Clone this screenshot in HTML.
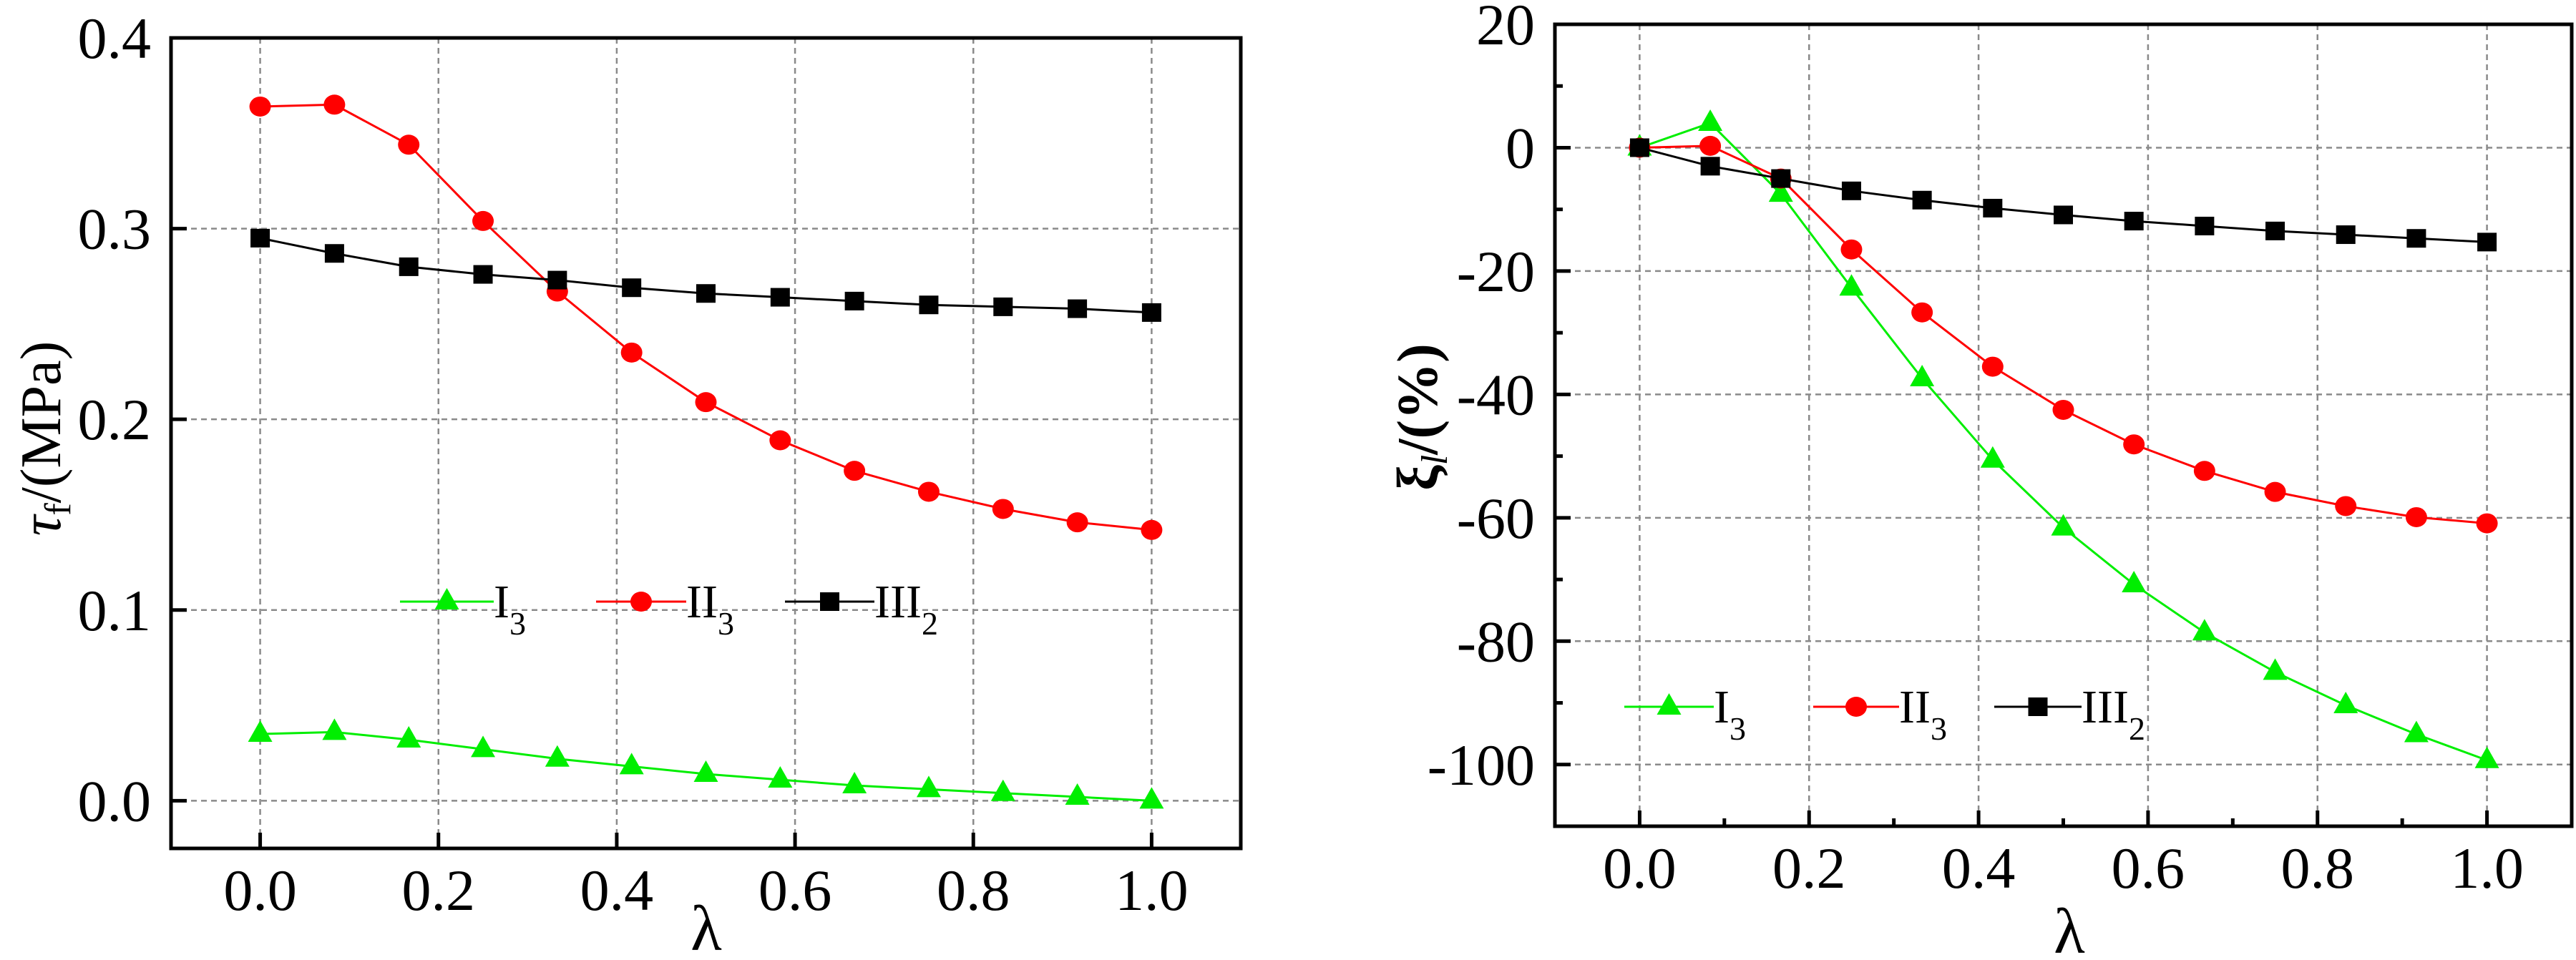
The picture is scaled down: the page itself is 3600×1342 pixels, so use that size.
<!DOCTYPE html>
<html><head><meta charset="utf-8"><style>
html,body{margin:0;padding:0;background:#fff;}
svg{display:block;font-family:"Liberation Serif",serif;}
</style></head><body>
<svg id="c" width="3600" height="1342" viewBox="0 0 3600 1342" xmlns="http://www.w3.org/2000/svg"></svg>
<script>
const lambdas=[0,1/12,2/12,3/12,4/12,5/12,6/12,7/12,8/12,9/12,10/12,11/12,1];
const xTicks=[0,0.2,0.4,0.6,0.8,1.0];
const xTickLabels=["0.0","0.2","0.4","0.6","0.8","1.0"];
const leftYTicks=[0,0.1,0.2,0.3,0.4];
const leftYTickLabels=["0.0","0.1","0.2","0.3","0.4"];
const rightYTicks=[20,0,-20,-40,-60,-80,-100];
const rightYTickLabels=["20","0","-20","-40","-60","-80","-100"];
const rightYMinor=[10,-10,-30,-50,-70,-90];
const rightXMinor=[0.1,0.3,0.5,0.7,0.9];
const tauI3=[0.035,0.036,0.032,0.027,0.022,0.018,0.014,0.011,0.008,0.006,0.004,0.002,0.000];
const tauII3=[0.364,0.365,0.344,0.304,0.267,0.235,0.209,0.189,0.173,0.162,0.153,0.146,0.142];
const tauIII2=[0.295,0.287,0.280,0.276,0.273,0.269,0.266,0.264,0.262,0.260,0.259,0.258,0.256];
const xiI3=[0,4,-7.5,-22.7,-37.4,-50.6,-61.6,-70.8,-78.6,-85,-90.4,-95.1,-99.3];
const xiII3=[0,0.3,-5,-16.5,-26.7,-35.5,-42.5,-48.1,-52.4,-55.8,-58.1,-59.9,-60.9];
const xiIII2=[0,-3,-5,-7,-8.5,-9.8,-10.9,-11.9,-12.7,-13.5,-14.1,-14.7,-15.3];

const NS="http://www.w3.org/2000/svg";
const svg=document.getElementById('c');
function el(tag,attrs,parent){const e=document.createElementNS(NS,tag);for(const k in attrs)e.setAttribute(k,attrs[k]);(parent||svg).appendChild(e);return e;}
function scale(d0,d1,r0,r1){return v=>r0+(v-d0)*(r1-r0)/(d1-d0);}

function marker(g,type,x,y,color){
  let m;
  if(type==='tri'){m=el('polygon',{points:`${x},${y-19} ${x-17},${y+11} ${x+17},${y+11}`,fill:color},g);}
  else if(type==='circ'){m=el('ellipse',{cx:x,cy:y,rx:15,ry:14,fill:color},g);}
  else {m=el('rect',{x:x-13.5,y:y-13,width:27,height:26,fill:color},g);}
  return m;
}

function panel(cfg){
  const g=el('g',{});
  
  
  const X=scale(-0.1,1.1,cfg.L,cfg.R), Y=scale(cfg.ymin,cfg.ymax,cfg.B,cfg.T);
  xTicks.forEach(t=>{const l=el('line',{x1:X(t),x2:X(t),y1:cfg.T,y2:cfg.B,stroke:'#8a8a8a','stroke-width':2.5,'stroke-dasharray':'8 6'},g);
    });
  cfg.yTicks.forEach(t=>{const l=el('line',{x1:cfg.L,x2:cfg.R,y1:Y(t),y2:Y(t),stroke:'#8a8a8a','stroke-width':2.5,'stroke-dasharray':'8 6'},g);
    });
  cfg.series.forEach(s=>{
    const sg=el('g',{},g);
    
    
    const pts=lambdas.map((l,i)=>X(l)+','+Y(s.vals[i])).join(' ');
    el('polyline',{points:pts,fill:'none',stroke:s.color,'stroke-width':3},sg);
    lambdas.forEach((l,i)=>{const m=marker(sg,s.mk,X(l),Y(s.vals[i]),s.color);
      });
  });
  xTicks.forEach((t,i)=>{el('line',{x1:X(t),x2:X(t),y1:cfg.B,y2:cfg.B-22,stroke:'#000','stroke-width':5},g);
    const tx=el('text',{x:X(t),y:cfg.xLabY,'font-size':82,'text-anchor':'middle'},g);tx.textContent=xTickLabels[i];
    });
  cfg.yTicks.forEach((t,i)=>{el('line',{x1:cfg.L,x2:cfg.L+22,y1:Y(t),y2:Y(t),stroke:'#000','stroke-width':5},g);
    const tx=el('text',{x:cfg.L-28,y:Y(t)+28,'font-size':82,'text-anchor':'end'},g);tx.textContent=cfg.yLabels[i];
    });
  (cfg.yMinor||[]).forEach(t=>el('line',{x1:cfg.L,x2:cfg.L+11,y1:Y(t),y2:Y(t),stroke:'#000','stroke-width':5},g));
  (cfg.xMinor||[]).forEach(t=>el('line',{x1:X(t),x2:X(t),y1:cfg.B,y2:cfg.B-11,stroke:'#000','stroke-width':5},g));
  const box=el('rect',{x:cfg.L,y:cfg.T,width:cfg.R-cfg.L,height:cfg.B-cfg.T,fill:'none',stroke:'#000','stroke-width':5},g);
  
  cfg.legend.forEach(e=>{
    const lg=el('g',{},g);
    
    
    el('line',{x1:e.x1,x2:e.x2,y1:cfg.legY,y2:cfg.legY,stroke:e.color,'stroke-width':3},lg);
    marker(lg,e.mk,(e.x1+e.x2)/2,cfg.legY,e.color);
    const t=el('text',{x:e.x2,y:cfg.legY+22,'font-size':66},lg);
    t.innerHTML=e.label+'<tspan font-size="46" dy="24">'+e.sub+'</tspan>';
  });
  return {g,X,Y};
}

const legSeries=[{color:'#00ee00',mk:'tri',label:'I',sub:'3'},{color:'#ff0000',mk:'circ',label:'II',sub:'3'},{color:'#000',mk:'sq',label:'III',sub:'2'}];

const p1=panel({name:'left-chart',L:239,R:1734,T:53,B:1186,ymin:-0.025,ymax:0.4,
  yTicks:leftYTicks,yLabels:leftYTickLabels,xLabY:1272,legY:841,
  series:[{key:'I3',vals:tauI3,color:'#00ee00',mk:'tri'},{key:'II3',vals:tauII3,color:'#ff0000',mk:'circ'},{key:'III2',vals:tauIII2,color:'#000',mk:'sq'}],
  legend:[Object.assign({x1:559,x2:690},legSeries[0]),Object.assign({x1:833,x2:959},legSeries[1]),Object.assign({x1:1097,x2:1222},legSeries[2])]});
const p2=panel({name:'right-chart',L:2173,R:3594,T:34,B:1155,ymin:-110,ymax:20,
  yTicks:rightYTicks,yLabels:rightYTickLabels,yMinor:rightYMinor,xMinor:rightXMinor,xLabY:1241,legY:988,
  series:[{key:'I3',vals:xiI3,color:'#00ee00',mk:'tri'},{key:'II3',vals:xiII3,color:'#ff0000',mk:'circ'},{key:'III2',vals:xiIII2,color:'#000',mk:'sq'}],
  legend:[Object.assign({x1:2270,x2:2395},legSeries[0]),Object.assign({x1:2534,x2:2654},legSeries[1]),Object.assign({x1:2787,x2:2909},legSeries[2])]});
</script>
<script>
(function(){
const NS="http://www.w3.org/2000/svg";const svg=document.getElementById('c');
function t(x,y,rot,html,name,fs){const e=document.createElementNS(NS,'text');e.setAttribute('x',x);e.setAttribute('y',y);e.setAttribute('font-size',fs||80);e.setAttribute('text-anchor','middle');
 if(rot)e.setAttribute('transform',`rotate(-90 ${x} ${y})`);e.innerHTML=html;
 
 
 svg.appendChild(e);}
t(84,613,true,'<tspan font-style="italic">τ</tspan><tspan font-size="52" dy="14">f</tspan><tspan dy="-14">/(MPa)</tspan>','left-y-axis-title');
t(2008,583,true,'<tspan font-weight="bold">ξ</tspan><tspan font-size="52" dy="14" font-style="italic">l</tspan><tspan dy="-14" font-weight="bold">/(%)</tspan>','right-y-axis-title');
t(987,1328,false,'λ','left-x-axis-title',90);
t(2892,1332,false,'λ','right-x-axis-title',90);
})();
</script>
</body></html>
